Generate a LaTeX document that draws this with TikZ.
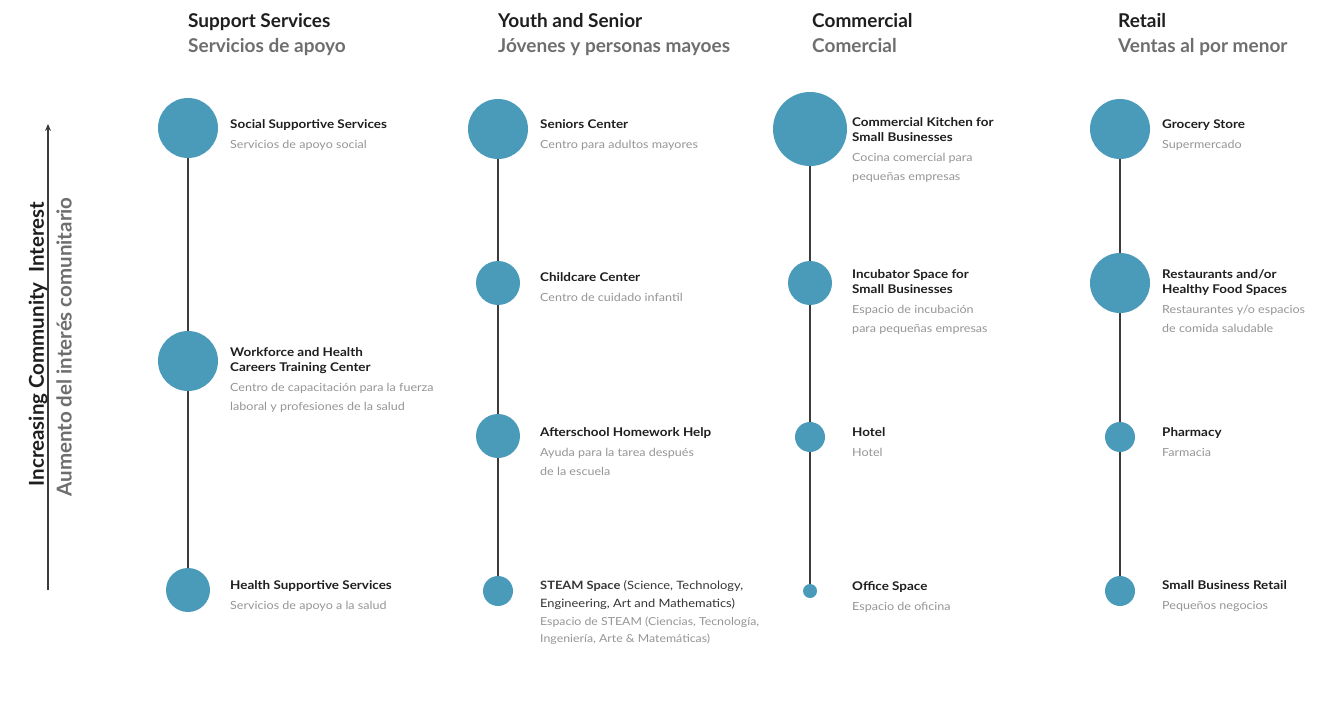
\documentclass[tikz,border=0pt]{standalone}
\usepackage{fontspec}
\setmainfont{Lato}
\newfontfamily\wideface{Lato}[FakeStretch=1.12]
\usetikzlibrary{arrows.meta}
\definecolor{dotblue}{HTML}{4A9BBA}
\definecolor{stem}{HTML}{3C3C3C}
\definecolor{subgray}{HTML}{959595}
\definecolor{headgray}{HTML}{6E6E6E}
\definecolor{ink}{HTML}{1E1E1E}
\tikzset{
  dot/.style={circle, fill=dotblue, inner sep=0pt, minimum size=#1},
  ttl/.style={anchor=north west, inner sep=0pt, align=left, text=ink,
              font=\wideface\fontsize{12}{15}\selectfont\bfseries},
  sub/.style={anchor=north west, inner sep=0pt, align=left, text=subgray,
              font=\wideface\fontsize{11.2}{19}\selectfont},
  head/.style={anchor=base west, inner sep=0pt, text=ink,
               font=\fontsize{19}{22}\selectfont\bfseries},
  headsub/.style={anchor=base west, inner sep=0pt, text=headgray,
               font=\fontsize{19}{22}\selectfont\bfseries},
  axislabel/.style={rotate=90, inner sep=0pt,
               font=\fontsize{20.5}{24}\selectfont\bfseries},
  stemline/.style={draw=stem, line width=1.8pt},
}
% #1 name, #2 column x, #3 circle y, #4 diameter, #5 first baseline, #6 title, #7 subtitle
\newcommand\entry[7]{%
  \node[dot=#4] (#1) at (#2,#3) {};
  \node[ttl] (#1t) at ({#2+42},{#5-10.5}) {#6};
  \node[sub] (#1s) at ([yshift=-2pt]#1t.south west) {#7};
}
\begin{document}
\begin{tikzpicture}[x=1pt,y=-1pt]
\useasboundingbox (0,0) rectangle (1324,727);

% column headings
\node[head] (h1) at (188,28) {Support Services};
\node[headsub] (h1s) at (188,53) {Servicios de apoyo};
\node[head] (h2) at (498,28) {Youth and Senior};
\node[headsub] (h2s) at (498,53) {Jóvenes y personas mayoes};
\node[head] (h3) at (812,28) {Commercial};
\node[headsub] (h3s) at (812,53) {Comercial};
\node[head] (h4) at (1118,28) {Retail};
\node[headsub] (h4s) at (1118,53) {Ventas al por menor};

% axis
\coordinate (axb) at (48,590);
\coordinate (axt) at (48,124);
\draw[stem, line width=1.2pt, -{Stealth[length=7pt,width=6pt]}] (axb) -- (axt);
\node[axislabel, text=ink] (axl1) at (38,344) {Increasing Community\ \ Interest};
\node[axislabel, text=headgray] (axl2) at (64,347) {Aumento del interés comunitario};

% Support Services
\entry{a1}{188}{128}{60}{128}{\strut Social Supportive Services}{\strut Servicios de apoyo social}
\entry{a2}{188}{361}{60}{356}{\strut Workforce and Health\\\strut Careers Training Center}
  {\strut Centro de capacitación para la fuerza\\\strut laboral y profesiones de la salud}
\entry{a3}{188}{590}{44}{589}{\strut Health Supportive Services}{\strut Servicios de apoyo a la salud}

% Youth and Senior
\entry{b1}{498}{129}{60}{128}{\strut Seniors Center}{\strut Centro para adultos mayores}
\entry{b2}{498}{283}{44}{281}{\strut Childcare Center}{\strut Centro de cuidado infantil}
\entry{b3}{498}{436}{44}{436}{\strut Afterschool Homework Help}
  {\strut Ayuda para la tarea después\\\strut de la escuela}
\node[dot=30] (b4) at (498,591) {};
\node[ttl, font=\wideface\fontsize{11.5}{18}\selectfont, text=ink!90] (b4t) at (540,{589-12.6})
  {\strut\textbf{STEAM Space} (Science, Technology,\\\strut Engineering, Art and Mathematics)};
\node[sub, font=\wideface\fontsize{11}{17}\selectfont] (b4s) at ([yshift=-1pt]b4t.south west)
  {\strut Espacio de STEAM (Ciencias, Tecnología,\\\strut Ingeniería, Arte \& Matemáticas)};

% Commercial
\entry{c1}{810}{129}{74}{126}{\strut Commercial Kitchen for\\\strut Small Businesses}
  {\strut Cocina comercial para\\\strut pequeñas empresas}
\entry{c2}{810}{283}{44}{278}{\strut Incubator Space for\\\strut Small Businesses}
  {\strut Espacio de incubación\\\strut para pequeñas empresas}
\entry{c3}{810}{437}{30}{436}{\strut Hotel}{\strut Hotel}
\entry{c4}{810}{591}{14}{590}{\strut Office Space}{\strut Espacio de oficina}

% Retail
\entry{d1}{1120}{129}{60}{128}{\strut Grocery Store}{\strut Supermercado}
\entry{d2}{1120}{283}{60}{278}{\strut Restaurants and/or\\\strut Healthy Food Spaces}
  {\strut Restaurantes y/o espacios\\\strut de comida saludable}
\entry{d3}{1120}{437}{30}{436}{\strut Pharmacy}{\strut Farmacia}
\entry{d4}{1120}{591}{30}{589}{\strut Small Business Retail}{\strut Pequeños negocios}

% stems joining each column
\draw[stemline] (a1.south) -- (a2.north) (a2.south) -- (a3.north);
\draw[stemline] (b1.south) -- (b2.north) (b2.south) -- (b3.north) (b3.south) -- (b4.north);
\draw[stemline] (c1.south) -- (c2.north) (c2.south) -- (c3.north) (c3.south) -- (c4.north);
\draw[stemline] (d1.south) -- (d2.north) (d2.south) -- (d3.north) (d3.south) -- (d4.north);
\end{tikzpicture}
\end{document}
